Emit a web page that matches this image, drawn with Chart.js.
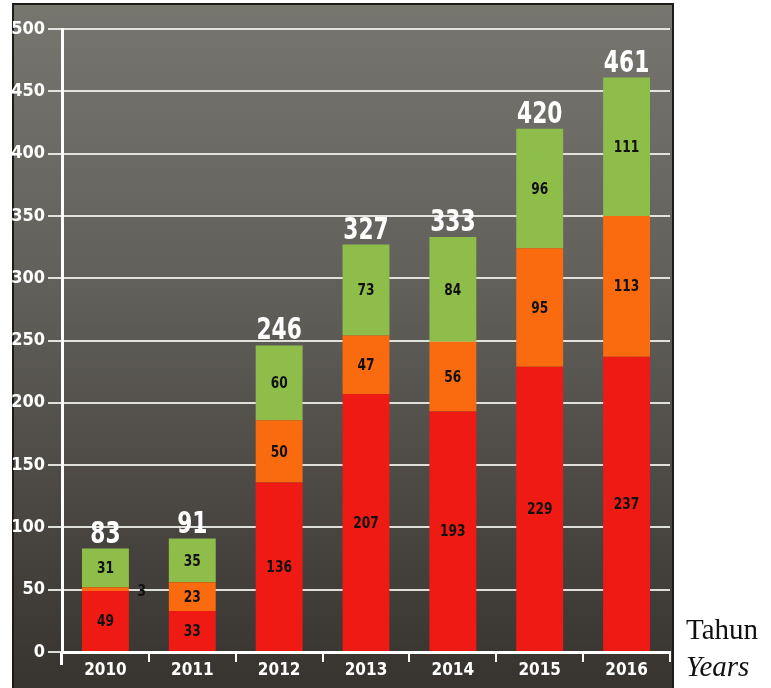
<!DOCTYPE html>
<html lang="en">
<head>
  <meta charset="UTF-8">
  <title>Tahun / Years</title>
  <script src="https://cdn.jsdelivr.net/npm/chart.js@4.4.1/dist/chart.umd.min.js"></script>
  <style>
  html, body {
    margin: 0;
    padding: 0;
    background: #ffffff;
  }
  #wrap {
    position: relative;
    width: 771px;
    height: 688px;
  }
  .axis-note {
    position: absolute;
    left: 686px;
    font-family: 'Liberation Serif', 'DejaVu Serif', serif;
    font-size: 29px;
    color: #111;
  }
  </style>
</head>
<body>
<div id="wrap">
  <canvas id="myChart" width="771" height="688"></canvas>
  <div class="axis-note" style="top:613px">Tahun</div>
  <div class="axis-note" style="top:650px;font-style:italic">Years</div>
</div>
<script>
    const years = ['2010', '2011', '2012', '2013', '2014', '2015', '2016'];
    const redValues = [49, 33, 136, 207, 193, 229, 237];
    const orangeValues = [3, 23, 50, 47, 56, 95, 113];
    const greenValues = [31, 35, 60, 73, 84, 96, 111];
    const totals = [83, 91, 246, 327, 333, 420, 461];

    const narrow = "'Liberation Sans Narrow', 'DejaVu Sans Condensed', 'Liberation Sans', sans-serif";

    // squeezed text, the print uses a condensed face
    function narrowText(ctx, txt, x, y, squeeze) {
        ctx.save();
        ctx.translate(x, y);
        ctx.scale(squeeze, 1);
        ctx.fillText(txt, 0, 0);
        ctx.restore();
    }

    // dark printed panel behind the chart
    const panel = {
        id: 'panel',
        beforeDraw: (chart) => {
            const ctx = chart.ctx;
            const g = ctx.createLinearGradient(0, 5, 0, 688);
            g.addColorStop(0, '#76766f');
            g.addColorStop(0.45, '#5f5d58');
            g.addColorStop(1, '#37332e');
            ctx.save();
            ctx.fillStyle = g;
            ctx.fillRect(13, 4, 660, 684);
            ctx.strokeStyle = '#1e1a18';
            ctx.lineWidth = 2;
            ctx.strokeRect(13, 4, 660, 690);
            ctx.restore();
        },
        afterDraw: (chart) => {
            // y axis runs a bit below the base line
            const ctx = chart.ctx;
            const a = chart.chartArea;
            ctx.save();
            ctx.strokeStyle = '#ffffff';
            ctx.lineWidth = 3;
            ctx.beginPath();
            ctx.moveTo(a.left - 0.5, a.bottom);
            ctx.lineTo(a.left - 0.5, a.bottom + 13);
            ctx.stroke();
            ctx.restore();
        }
    };

    // values inside bars and totals on top
    const barLabels = {
        id: 'barLabels',
        afterDatasetsDraw: (chart) => {
            const ctx = chart.ctx;
            ctx.save();
            ctx.textAlign = 'center';
            ctx.textBaseline = 'middle';
            chart.data.datasets.forEach((ds, di) => {
                const meta = chart.getDatasetMeta(di);
                meta.data.forEach((bar, i) => {
                    const v = ds.data[i];
                    ctx.fillStyle = '#111';
                    ctx.font = 'bold 16px ' + narrow;
                    if (v < 10) {
                        narrowText(ctx, v, bar.x + bar.width / 2 + 13, (bar.y + bar.base) / 2 + 3, 0.85);
                    } else {
                        narrowText(ctx, v, bar.x, (bar.y + bar.base) / 2 + 1, 0.85);
                    }
                });
            });
            const top = chart.getDatasetMeta(chart.data.datasets.length - 1);
            ctx.fillStyle = '#ffffff';
            ctx.font = 'bold 31px ' + narrow;
            ctx.textBaseline = 'alphabetic';
            top.data.forEach((bar, i) => {
                narrowText(ctx, totals[i], bar.x, bar.y - 6, 0.78);
            });
            ctx.restore();
        }
    };

    Chart.register(panel, barLabels);
    Chart.defaults.font.family = narrow;

    var ctx = document.getElementById('myChart');
    var myChart = new Chart(ctx, {
        type: 'bar',
        data: {
          labels: years,
          datasets: [{
            label: 'Red',
            data: redValues,
            backgroundColor: '#f01a14'
          }, {
            label: 'Orange',
            data: orangeValues,
            backgroundColor: '#f96b0e'
          }, {
            label: 'Green',
            data: greenValues,
            backgroundColor: '#8fbd4a'
          }]
        },
        options: {
          responsive: false,
          animation: false,
          barPercentage: 0.54,
          categoryPercentage: 1,
          layout: {
            padding: {top: 29, right: 101, left: 0, bottom: 0}
          },
          scales: {
            x: {
              stacked: true,
              border: {color: '#ffffff', width: 3},
              grid: {
                display: true,
                drawOnChartArea: false,
                color: '#ffffff',
                lineWidth: 2,
                tickLength: 10
              },
              ticks: {
                color: '#ffffff',
                padding: -2,
                font: {size: 17, weight: 'bold'}
              },
              afterFit: (scale) => { scale.height = 36; }
            },
            y: {
              stacked: true,
              min: 0,
              max: 500,
              border: {color: '#ffffff', width: 3},
              grid: {
                color: 'rgba(240, 240, 236, 0.9)',
                lineWidth: 2,
                tickLength: 14
              },
              ticks: {
                stepSize: 50,
                color: '#ffffff',
                padding: 3,
                font: {size: 18, weight: 'bold'}
              },
              afterFit: (scale) => { scale.width = 62; }
            }
          },
          plugins: {
            legend: {display: false},
            tooltip: {enabled: false}
          }
        }
      });
</script>
</body>
</html>
